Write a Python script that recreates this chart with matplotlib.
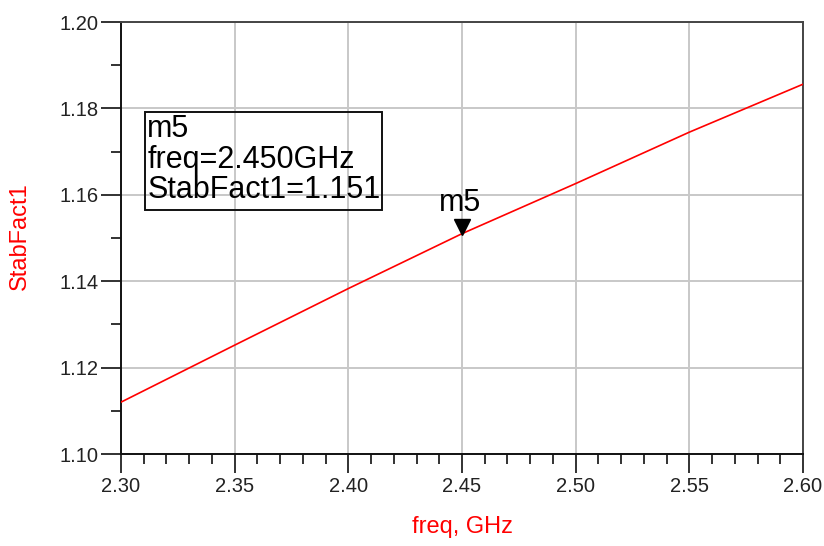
import matplotlib
matplotlib.use("Agg")
import matplotlib.pyplot as plt
from matplotlib.patches import Rectangle
from matplotlib.ticker import MultipleLocator
import matplotlib.transforms as mtransforms

plt.rcParams['font.family'] = ['Liberation Sans', 'DejaVu Sans']

# values
freq_ghz = [2.30, 2.35, 2.40, 2.45, 2.50, 2.55, 2.60]
stab_fact = [1.1120, 1.1252, 1.1383, 1.1510, 1.1626, 1.1745, 1.1856]
marker_freq = 2.45
marker_value = 1.151
marker_name = "m5"
x_ticks = [2.30, 2.35, 2.40, 2.45, 2.50, 2.55, 2.60]
y_ticks = [1.10, 1.12, 1.14, 1.16, 1.18, 1.20]

PX = 72 / 100  # points per pixel at dpi 100

fig = plt.figure(figsize=(8.24, 5.46), dpi=100)
ax = fig.add_axes([121 / 824, 1 - 454 / 546, 682 / 824, 432 / 546])

ax.plot(freq_ghz, stab_fact, color='#ff0000', lw=1.2, zorder=3)

ax.set_xlim(2.30, 2.60)
ax.set_ylim(1.10, 1.20)
ax.set_xticks(x_ticks)
ax.set_yticks(y_ticks)
ax.set_xticklabels([f"{v:.2f}" for v in x_ticks])
ax.set_yticklabels([f"{v:.2f}" for v in y_ticks])
ax.xaxis.set_minor_locator(MultipleLocator(0.01))
ax.yaxis.set_minor_locator(MultipleLocator(0.01))

ax.grid(True, which='major', color='#c8c8c8', lw=1.4, zorder=0)
ax.tick_params(which='major', direction='out', length=19 * PX, width=1.3,
               color='#222222', labelsize=14.5, labelcolor='#222222', pad=4 * PX)
ax.tick_params(which='minor', direction='out', length=10 * PX, width=1.3, color='#222222')
ax.tick_params(axis='y', which='major', length=20 * PX, pad=2 * PX)
ax.tick_params(top=False, right=False, which='both')

for side in ['left', 'bottom']:
    ax.spines[side].set_color('#111111')
    ax.spines[side].set_linewidth(1.4)
for side in ['top', 'right']:
    ax.spines[side].set_color('#444444')
    ax.spines[side].set_linewidth(1.4)

ax.set_xlabel("freq, GHz", color='#ff0000', fontsize=17, va='center')
ax.xaxis.set_label_coords(0.5, -0.169)
ax.set_ylabel("StabFact1", color='#ff0000', fontsize=17, va='center')
ax.yaxis.set_label_coords(-0.148, 0.505)

# marker triangle, tip on the curve
shift = mtransforms.offset_copy(ax.transData, fig=fig, x=0, y=6.5, units='dots')
ax.plot([marker_freq], [marker_value], marker='v', color='black', ms=11,
        transform=shift, zorder=4, clip_on=False)
ax.annotate(marker_name, (marker_freq, marker_value), xytext=(-2, 16),
            textcoords='offset pixels', ha='center', va='bottom',
            fontsize=22, color='black', zorder=5)

# readout box (transparent, grid shows through)
ax.add_patch(Rectangle((0.0352, 0.5648), 0.3475, 0.2269, transform=ax.transAxes,
                       facecolor='none', edgecolor='#111111', lw=1.4, zorder=4))
readout = f"{marker_name}\nfreq={marker_freq:.3f}GHz\nStabFact1={marker_value:.3f}"
ax.text(0.0385, 0.787, readout, transform=ax.transAxes, ha='left', va='top',
        fontsize=22, linespacing=1.03, color='black', zorder=5)

fig.savefig("out.png", dpi=100)
